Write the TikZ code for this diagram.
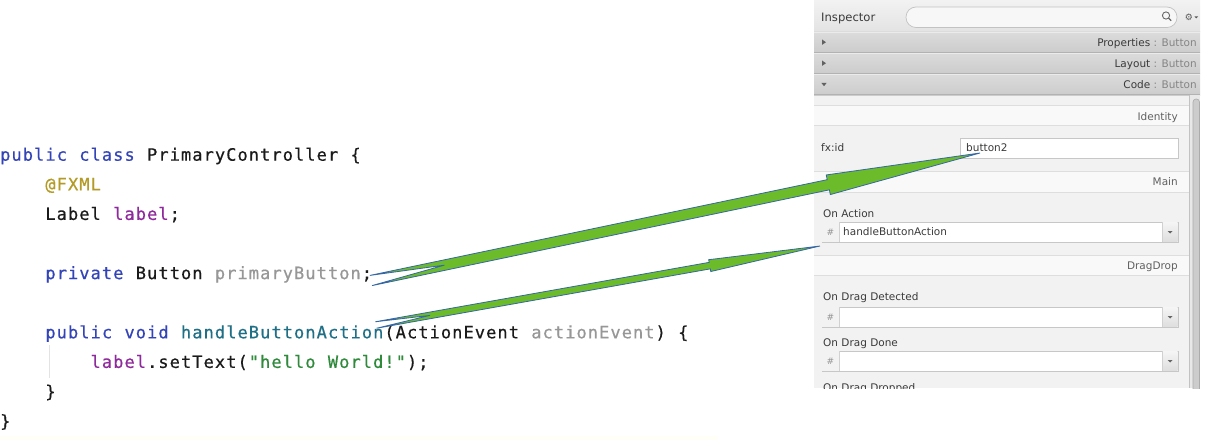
\documentclass[tikz,border=0pt]{standalone}
\usepackage{fontspec}
\setmainfont{DejaVu Sans}
\newfontfamily\codefont[LetterSpace=6.3,FakeBold=0.5]{DejaVu Sans Mono}
\usetikzlibrary{calc}
\definecolor{kw}{HTML}{3344B8}
\definecolor{annot}{HTML}{B39B26}
\definecolor{fieldc}{HTML}{8E2A9B}
\definecolor{unused}{HTML}{979797}
\definecolor{methc}{HTML}{1F6F86}
\definecolor{strc}{HTML}{2F8A3C}
\definecolor{plain}{HTML}{1A1A1A}
\definecolor{uitext}{HTML}{3A3A3A}
\definecolor{uigray}{HTML}{858585}
\definecolor{arrowfill}{HTML}{6CBB2A}
\definecolor{arrowedge}{HTML}{3566A8}
\tikzset{
  codetok/.style={anchor=base west, inner sep=0pt, font=\codefont\fontsize{17}{20}\selectfont},
  ui/.style={inner sep=0pt, font=\fontsize{10.5}{12}\selectfont, text=uitext},
  uilabel/.style={ui, anchor=base west},
  uihead/.style={ui, anchor=base east, text=black!62},
  barlabel/.style={ui, anchor=base east},
  fieldbox/.style={fill=white, draw=black!22, line width=0.8pt},
  fieldline/.style={draw=black!18, line width=0.7pt},
  hashcell/.style={fill=black!5},
  dropbtn/.style={top color=black!4, bottom color=black!13},
  dropcaret/.style={fill=black!60},
  hashtxt/.style={inner sep=0pt, font=\fontsize{9}{10}\selectfont, text=black!42},
  sectionbar/.style={top color=black!14, bottom color=black!20},
  headrow/.style={fill=black!2.5},
  rowline/.style={draw=black!13, line width=0.7pt},
  bartri/.style={fill=black!62},
  fatarrow/.style={fill=arrowfill, draw=arrowedge, line width=0.8pt, line join=miter},
}
\newcommand\tok[5]{\node[codetok,text=#4] (#1) at (#2*11.3,160.7+#3*29.6) {#5};}
\newcommand\combobox[3]{%
  \draw[fieldbox] (822,#2) rectangle (1178,#2+20);
  \fill[hashcell] (822.4,#2+0.4) rectangle (839,#2+19.6);
  \draw[fieldline] (839,#2) -- (839,#2+20);
  \shade[dropbtn] (1162,#2+0.4) rectangle (1177.6,#2+19.6);
  \draw[fieldline] (1162,#2) -- (1162,#2+20);
  \fill[dropcaret] (1167.5,#2+9) -- (1172.5,#2+9) -- (1170,#2+11.5) -- cycle;
  \node[hashtxt] (#1-hash) at (830.5,#2+10) {\#};
  \node[uilabel] (#1) at (843,#2+13.8) {#3};
}
\newcommand\notcharrow[6]{%
  \coordinate (#1-hb) at ($(#2)!#5!(#1)$);
  \coordinate (#1-nt) at ($(#1)!#6!(#2)$);
  \path[fatarrow] ($(#1)!#3!90:(#2)$) -- ($(#1-hb)!#3!90:(#2)$) -- ($(#1-hb)!#4!90:(#2)$) -- (#2)
    -- ($(#1-hb)!#4!-90:(#2)$) -- ($(#1-hb)!#3!-90:(#2)$) -- ($(#1)!#3!-90:(#2)$) -- (#1-nt) -- cycle;
}
\begin{document}
\begin{tikzpicture}[x=1pt,y=-1pt]
\useasboundingbox (0,0) rectangle (1205,444);
\fill[white] (0,0) rectangle (1205,444);

% ---------------- code ----------------
\fill[yellow!3!white] (0,436) rectangle (718,440);
\draw[black!11, line width=1pt] (49,345) -- (49,378);
\tok{c0a}{0}{0}{kw}{public}
\tok{c0b}{7}{0}{kw}{class}
\tok{c0c}{13}{0}{plain}{PrimaryController}
\tok{c0d}{31}{0}{plain}{\{}
\tok{c1a}{4}{1}{annot}{@FXML}
\tok{c2a}{4}{2}{plain}{Label}
\tok{c2b}{10}{2}{fieldc}{label}
\tok{c2c}{15}{2}{plain}{;}
\tok{c4a}{4}{4}{kw}{private}
\tok{c4b}{12}{4}{plain}{Button}
\tok{c4c}{19}{4}{unused}{primaryButton}
\tok{c4d}{32}{4}{plain}{;}
\tok{c6a}{4}{6}{kw}{public}
\tok{c6b}{11}{6}{kw}{void}
\tok{c6c}{16}{6}{methc}{handleButtonAction}
\tok{c6d}{34}{6}{plain}{(ActionEvent}
\tok{c6e}{47}{6}{unused}{actionEvent}
\tok{c6f}{58}{6}{plain}{)}
\tok{c6g}{60}{6}{plain}{\{}
\tok{c7a}{8}{7}{fieldc}{label}
\tok{c7b}{13}{7}{plain}{.setText(}
\tok{c7c}{22}{7}{strc}{"hello}
\tok{c7d}{29}{7}{strc}{World!"}
\tok{c7e}{36}{7}{plain}{);}
\tok{c8a}{4}{8}{plain}{\}}
\tok{c9a}{0}{9}{plain}{\}}

% ---------------- inspector ----------------
\begin{scope}
\clip (814,0) rectangle (1200,388);
\fill[black!5] (814,0) rectangle (1200,388);
% title bar
\shade[top color=black!5, bottom color=black!11] (814,0) rectangle (1200,32);
\node[ui, anchor=base west, font=\fontsize{11.6}{13}\selectfont] (insp) at (821,22) {Inspector};
\draw[fill=black!3, draw=black!24, line width=0.7pt, rounded corners=10pt] (906,7) rectangle (1177,27.5);
\draw[black!60, line width=0.9pt] (1166,15.5) circle (3.6);
\draw[black!60, line width=1.1pt] (1168.6,18.1) -- (1171.2,20.7);
\node[inner sep=0pt, font=\fontsize{9}{10}\selectfont, text=black!65] (gear) at (1189,17) {⚙};
\fill[black!65] (1194.5,16.5) -- (1198,16.5) -- (1196.25,18.5) -- cycle;
% section bars
\shade[sectionbar] (814,32) rectangle (1200,52.5);
\shade[sectionbar] (814,52.5) rectangle (1200,73.5);
\shade[sectionbar] (814,73.5) rectangle (1200,95);
\foreach \yy in {32,52.5,73.5}{\draw[black!8, line width=0.7pt] (814,\yy+0.6) -- (1200,\yy+0.6);}
\foreach \yy in {52.5,73.5,95}{\draw[black!30, line width=0.7pt] (814,\yy-0.3) -- (1200,\yy-0.3);}
\fill[bartri] (822,39.5) -- (826,42.2) -- (822,44.9) -- cycle;
\fill[bartri] (822,60.5) -- (826,63.2) -- (822,65.9) -- cycle;
\fill[bartri] (821.3,82.8) -- (826.7,82.8) -- (824,86.2) -- cycle;
\node[barlabel] (propbar) at (1197,46.2) {Properties\ \textcolor{uigray}{: Button}};
\node[barlabel] (laybar) at (1197,67.2) {Layout\ \textcolor{uigray}{: Button}};
\node[barlabel] (codebar) at (1197,88.4) {Code\ \textcolor{uigray}{: Button}};
% scrollbar
\fill[black!9] (1189,95) rectangle (1200,388);
\draw[black!24, line width=0.7pt] (1189,95) -- (1189,388);
\draw[fill=black!20, draw=black!33, line width=0.6pt, rounded corners=3pt] (1193,99) rectangle (1199.5,400);
% Identity
\fill[headrow] (814,105) rectangle (1189,125);
\draw[rowline] (814,105) -- (1189,105);
\draw[rowline] (814,125) -- (1189,125);
\node[uihead] (hid) at (1178,120) {Identity};
\node[uilabel] (fxid) at (821,151.8) {fx:id};
\draw[fieldbox] (960,138) rectangle (1178,158);
\node[uilabel] (fxidval) at (966,151.8) {button2};
% Main
\fill[headrow] (814,171) rectangle (1189,192);
\draw[rowline] (814,171) -- (1189,171);
\draw[rowline] (814,192) -- (1189,192);
\node[uihead] (hmain) at (1178,185.4) {Main};
\node[uilabel] (onact) at (823,217.1) {On Action};
\combobox{onactval}{222}{handleButtonAction}
% DragDrop
\fill[headrow] (814,255) rectangle (1189,275);
\draw[rowline] (814,255) -- (1189,255);
\draw[rowline] (814,275) -- (1189,275);
\node[uihead] (hdd) at (1178,269.5) {DragDrop};
\node[uilabel] (ondet) at (823,300.6) {On Drag Detected};
\combobox{ondetval}{307}{}
\node[uilabel] (ondone) at (823,346.6) {On Drag Done};
\combobox{ondoneval}{351}{}
\node[uilabel] (ondrop) at (823,391.2) {On Drag Dropped};
\end{scope}

% ---------------- arrows ----------------
\coordinate (src1) at (371,280.5);
\coordinate (dst1) at (980,153);
\coordinate (src2) at (376,325);
\coordinate (dst2) at (820,246);
\notcharrow{src1}{dst1}{5.2pt}{10pt}{155pt}{75pt}
\notcharrow{src2}{dst2}{3.3pt}{6pt}{112pt}{55pt}
\end{tikzpicture}
\end{document}
